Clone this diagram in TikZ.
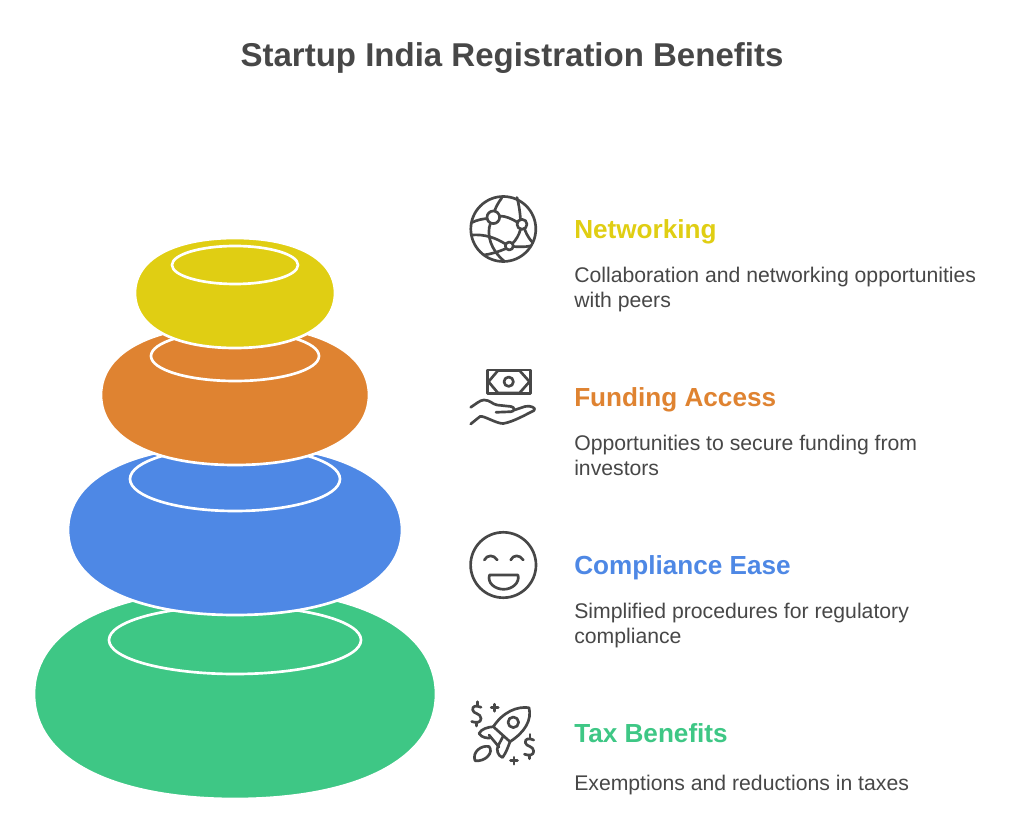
\documentclass[tikz,border=0pt]{standalone}
\usepackage{fontspec}
\setmainfont{Liberation Sans}
\definecolor{netcol}{HTML}{E0CE13}
\definecolor{fundcol}{HTML}{DF8331}
\definecolor{compcol}{HTML}{4E88E5}
\definecolor{taxcol}{HTML}{3EC785}
\definecolor{txtcol}{HTML}{474747}
\tikzset{
	heading/.style={anchor=west, inner sep=0pt, font=\bfseries\fontsize{19.6}{24}\selectfont},
	blurb/.style={anchor=north west, inner sep=0pt, align=left, text=txtcol, font=\fontsize{15.9}{18.9}\selectfont},
	icon/.style={draw=txtcol, line width=2pt, line cap=round, line join=round},
	ring/.style={draw=white, line width=2pt}
}
\begin{document}
\begin{tikzpicture}[x=0.75pt, y=-0.75pt]
	\fill[white] (0,0) rectangle (1024,823);
	\useasboundingbox (0,0) rectangle (1024,823);
	\node[inner sep=0pt, text=txtcol, font=\bfseries\fontsize{24.75}{29}\selectfont] (title) at (512,58) {Startup India Registration Benefits};

	% Stack of discs, bottom one first
	\foreach \cy/\rx/\ry/\col/\iy/\irx/\iry in {694/201/105/taxcol/640/126/34, 530/167/85/compcol/479/105/32, 395/134/70/fundcol/356/84/25, 293/100/55/netcol/265/63/19} {
		\draw[ring, fill=\col] ({235-\rx},\cy) .. controls ({235-\rx},{\cy-0.63*\ry}) and ({235-0.6*\rx},{\cy-\ry}) .. (235,{\cy-\ry})
			.. controls ({235+0.6*\rx},{\cy-\ry}) and ({235+\rx},{\cy-0.63*\ry}) .. ({235+\rx},\cy)
			.. controls ({235+\rx},{\cy+0.63*\ry}) and ({235+0.6*\rx},{\cy+\ry}) .. (235,{\cy+\ry})
			.. controls ({235-0.6*\rx},{\cy+\ry}) and ({235-\rx},{\cy+0.63*\ry}) .. ({235-\rx},\cy) -- cycle;
		\draw[ring] (235,\iy) ellipse ({\irx} and {\iry});
	}

	% Labels on the right
	\foreach \key/\cy/\ty/\col/\hd/\txt in {
		net/232/267/netcol/Networking/{Collaboration and networking opportunities\\with peers},
		fund/400/435/fundcol/Funding Access/{Opportunities to secure funding from\\investors},
		comp/568/603/compcol/Compliance Ease/{Simplified procedures for regulatory\\compliance},
		tax/733/775/taxcol/Tax Benefits/{Exemptions and reductions in taxes}} {
		\node[heading, text=\col] (\key head) at (574,\cy) {\hd};
		\node[blurb] (\key text) at (574,\ty) {\txt};
	}

	% Globe
	\draw[icon] (503.3,229) circle (32.5);
	\draw[icon] (493.3,217.3) circle (6.3);
	\draw[icon] (522,224.3) circle (5);
	\draw[icon] (509.3,246) circle (4);
	\draw[icon] (501.7,198) .. controls (498,203) and (496,207) .. (494.5,211);
	\draw[icon] (487.2,218.5) .. controls (482,219) and (477,220) .. (472,222.5);
	\draw[icon] (499.5,216) .. controls (506,216) and (512,219) .. (517,222);
	\draw[icon] (490.5,223) .. controls (486,235) and (491,250) .. (504,261);
	\draw[icon] (471.5,235) .. controls (485,234) and (496,238) .. (505.5,244);
	\draw[icon] (517,197.5) .. controls (519,205) and (520,212) .. (520.5,219.5);
	\draw[icon] (520.5,229.5) .. controls (519,235) and (516,240) .. (512.5,243.5);
	\draw[icon] (524.5,229) .. controls (527,236) and (531,241) .. (533,243);
	\draw[icon] (506,248.5) .. controls (498,252) and (491,254) .. (484,255);
	\draw[icon] (513,246.5) .. controls (518,247) and (526,247) .. (530,246);

	% Banknote on a hand
	\draw[icon] (487.3,370) rectangle (530.7,393.3);
	\draw[icon] (508.7,381.7) circle (4.7);
	\draw[icon] (488.5,381.7) -- (498,370.5) -- (519.5,370.5) -- (529.5,381.7) -- (519.5,393) -- (498,393) -- cycle;
	\draw[icon] (470.7,407.3) .. controls (476,404) and (480,400) .. (484,400) .. controls (490,400) and (492,404) .. (497,405) -- (511,406.5) .. controls (515,407) and (515,411.5) .. (511,411.7) -- (496,412.3);
	\draw[icon] (470.7,424) -- (480,416.5) .. controls (483,415) and (497,424) .. (503.3,423.5) .. controls (513,422) and (527,414) .. (534,410.5) .. controls (537,408) and (530,405) .. (525,406.5) -- (514.5,410);

	% Smiley
	\draw[icon] (503.3,565) circle (32.7);
	\draw[icon] (484.3,560) .. controls (487,554.5) and (494,554.5) .. (497.3,560);
	\draw[icon] (510.7,560) .. controls (513,554.5) and (520,554.5) .. (523.3,560);
	\draw[icon] (489.5,575) -- (518,575) .. controls (520,583) and (512,589.3) .. (503.7,589.3) .. controls (495,589.3) and (487,583) .. (489.5,575) -- cycle;

	% Rocket with dollars
	\draw[icon] (529,707.7) .. controls (517,706) and (503,712) .. (493.3,726.7) -- (510,741.7) .. controls (525,732) and (532,720) .. (529,707.7) -- cycle;
	\draw[icon] (513.3,722.3) circle (5.3);
	\draw[icon] (493.3,726.7) .. controls (488,727) and (481,729) .. (479,733.5) .. controls (482,738) and (487,738) .. (490,738);
	\draw[icon] (489,735) -- (499,747);
	\draw[icon] (510,741.7) .. controls (508,747) and (506,753) .. (502.5,757.5) .. controls (498,756) and (496,750) .. (498,746) -- (503,736.5);
	\draw[icon] (475,760.7) .. controls (472,752) and (481,745) .. (489,746.5) .. controls (494,752) and (486,762) .. (475,760.7) -- cycle;
	\foreach \dx/\dy in {0/0, 52.7/32.7} {
		\draw[icon, shift={(\dx,\dy)}] (481,707.3) .. controls (476,705) and (472,706) .. (472.7,710) .. controls (473,714) and (481,713) .. (481,718.5) .. controls (481,723) and (476,723) .. (471.7,721.5);
		\draw[icon, shift={(\dx,\dy)}] (477.3,701.7) -- (477.3,705);
		\draw[icon, shift={(\dx,\dy)}] (476.7,722.7) -- (476.7,726);
	}
	\foreach \px/\py in {494.7/707.7, 514/760.7} {
		\draw[icon] ({\px-3.5},\py) -- ({\px+3.5},\py);
		\draw[icon] (\px,{\py-3.5}) -- (\px,{\py+3.5});
	}
\end{tikzpicture}
\end{document}
